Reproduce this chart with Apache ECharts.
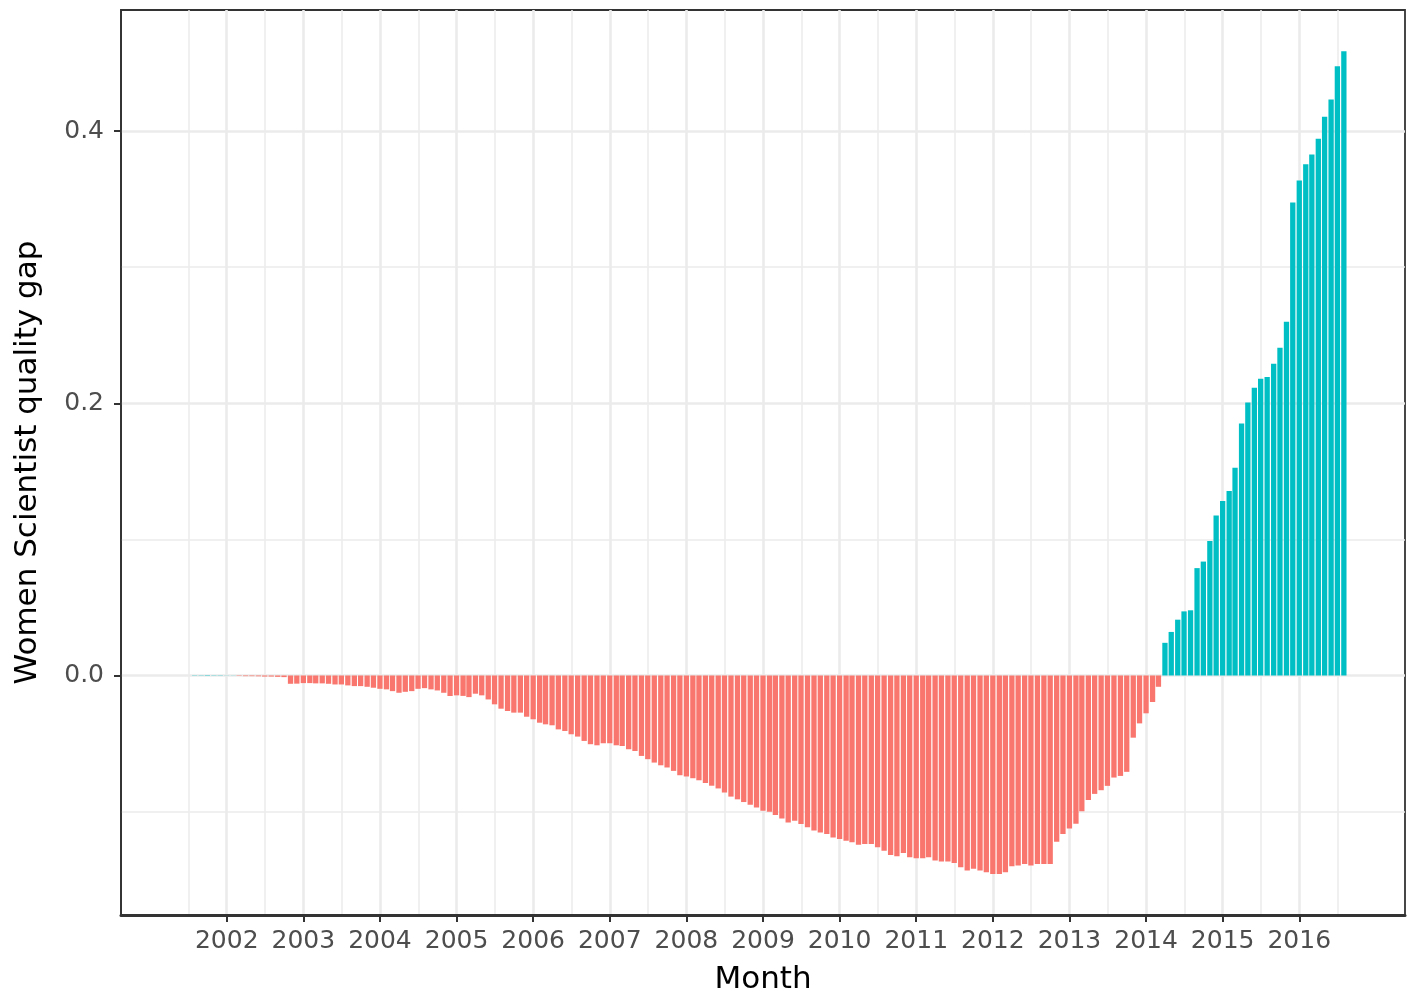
<!DOCTYPE html>
<html>
<head>
<meta charset="utf-8">
<script src="https://cdn.jsdelivr.net/npm/echarts@6/dist/echarts.min.js"></script>
<style>
html,body{margin:0;padding:0;background:#ffffff;}
#chart{width:1407px;height:996px;}
</style>
</head>
<body>
<div id="chart"></div>
<script>
// ---- DATA (monthly values) ----
// first month of the series: June 2001; each array = consecutive months of that year
const firstYear = 2001;
const firstMonth = 6; // June
const gap2001 = [0, 0, 0.0002, 0.0002, 0.0003, 0.0002, 0.0002];
const gap2002 = [0.0001, 0.0001, -0.0003, -0.0005, -0.0005, -0.0006, -0.0008, -0.0008, -0.0010, -0.0012, -0.0061, -0.0060];
const gap2003 = [-0.0056, -0.0056, -0.0058, -0.0058, -0.0061, -0.0066, -0.0066, -0.0073, -0.0078, -0.0078, -0.0083, -0.0090];
const gap2004 = [-0.0098, -0.0102, -0.0115, -0.0127, -0.0120, -0.0115, -0.0098, -0.0093, -0.0102, -0.0110, -0.0127, -0.0151];
const gap2005 = [-0.0146, -0.0150, -0.0159, -0.0134, -0.0146, -0.0176, -0.0212, -0.0244, -0.0261, -0.0273, -0.0273, -0.0303];
const gap2006 = [-0.0322, -0.0347, -0.0359, -0.0366, -0.0396, -0.0408, -0.0432, -0.0449, -0.0481, -0.0505, -0.0513, -0.0498];
const gap2007 = [-0.0498, -0.0513, -0.0518, -0.0542, -0.0555, -0.0591, -0.0615, -0.0640, -0.0660, -0.0676, -0.0701, -0.0733];
const gap2008 = [-0.0742, -0.0755, -0.0770, -0.0790, -0.0810, -0.0830, -0.0860, -0.0890, -0.0910, -0.0930, -0.0950, -0.0970];
const gap2009 = [-0.0994, -0.1001, -0.1026, -0.1050, -0.1080, -0.1067, -0.1092, -0.1116, -0.1140, -0.1153, -0.1165, -0.1190];
const gap2010 = [-0.1201, -0.1214, -0.1226, -0.1243, -0.1238, -0.1238, -0.1263, -0.1287, -0.1319, -0.1328, -0.1304, -0.1336];
const gap2011 = [-0.1343, -0.1343, -0.1336, -0.1360, -0.1367, -0.1367, -0.1377, -0.1409, -0.1433, -0.1421, -0.1433, -0.1446];
const gap2012 = [-0.1458, -0.1458, -0.1446, -0.1401, -0.1397, -0.1385, -0.1397, -0.1385, -0.1385, -0.1385, -0.1221, -0.1165];
const gap2013 = [-0.1125, -0.1090, -0.0997, -0.0915, -0.0870, -0.0843, -0.0811, -0.0750, -0.0738, -0.0708, -0.0457, -0.0352];
const gap2014 = [-0.0278, -0.0195, -0.0083, 0.0240, 0.0320, 0.0410, 0.0471, 0.0479, 0.0789, 0.0837, 0.0989, 0.1175];
const gap2015 = [0.1282, 0.1355, 0.1526, 0.1851, 0.2005, 0.2115, 0.2181, 0.2193, 0.2291, 0.2408, 0.2600, 0.3475];
const gap2016 = [0.3638, 0.3756, 0.3829, 0.3944, 0.4105, 0.4232, 0.4476, 0.4586];

const yearTicks = [2002, 2003, 2004, 2005, 2006, 2007, 2008, 2009, 2010, 2011, 2012, 2013, 2014, 2015, 2016];
const gapTicks = [0, 0.2, 0.4];
const xTitle = 'Month';
const yTitle = 'Women Scientist quality gap';

// ---- build month categories and bar data ----
const gapValues = [].concat(gap2001, gap2002, gap2003, gap2004, gap2005, gap2006, gap2007, gap2008,
  gap2009, gap2010, gap2011, gap2012, gap2013, gap2014, gap2015, gap2016);
const months = [];
for (let i = 0; i < gapValues.length; i++) {
  const t = (firstMonth - 1) + i;
  months.push({ y: firstYear + Math.floor(t / 12), m: t % 12 });
}
function decimalYear(y, m) {
  const a = Date.UTC(y, 0, 1), b = Date.UTC(y + 1, 0, 1), d = Date.UTC(y, m, 1);
  return y + (d - a) / (b - a);
}
const barData = months.map((mm, i) => [decimalYear(mm.y, mm.m), gapValues[i]]);

const FONT = 'DejaVu Sans';
const chart = echarts.init(document.getElementById('chart'), null, { renderer: 'canvas' });
const option = {
  animation: false,
  backgroundColor: '#ffffff',
  grid: {
    left: 121, right: 2, top: 10, bottom: 81,
    outerBoundsMode: 'none', containLabel: false,
    show: true, borderColor: '#333333', borderWidth: 1.8, backgroundColor: '#ffffff'
  },
  xAxis: {
    type: 'value', min: 2000.62, max: 2017.38, splitNumber: 16,
    name: xTitle, nameLocation: 'middle', nameGap: 49,
    nameTextStyle: { fontFamily: FONT, fontSize: 31, color: '#000000' },
    axisLine: { show: true, onZero: false, lineStyle: { color: '#333333', width: 3 } },
    axisTick: { show: true, length: 7, customValues: yearTicks, lineStyle: { color: '#333333', width: 2 } },
    axisLabel: {
      customValues: yearTicks, margin: 14, fontFamily: FONT, fontSize: 25, color: '#4D4D4D',
      formatter: v => String(Math.round(v))
    },
    splitLine: { show: true, lineStyle: { color: '#EBEBEB', width: 2.6 } },
    minorTick: { show: false, splitNumber: 2 },
    minorSplitLine: { show: true, lineStyle: { color: '#EBEBEB', width: 1.5 } }
  },
  yAxis: {
    type: 'value', min: -0.176, max: 0.489, splitNumber: 3,
    name: yTitle, nameLocation: 'middle', nameGap: 78, nameRotate: 90,
    nameTextStyle: { fontFamily: FONT, fontSize: 31, color: '#000000' },
    axisLine: { show: true, lineStyle: { color: '#333333', width: 1.8 } },
    axisTick: { show: true, length: 7, customValues: gapTicks, lineStyle: { color: '#333333', width: 2 } },
    axisLabel: {
      customValues: gapTicks, margin: 17, fontFamily: FONT, fontSize: 25, color: '#4D4D4D',
      formatter: v => v.toFixed(1)
    },
    splitLine: { show: true, lineStyle: { color: '#EBEBEB', width: 2.6 } },
    minorTick: { show: false, splitNumber: 2 },
    minorSplitLine: { show: true, lineStyle: { color: '#EBEBEB', width: 1.5 } }
  },
  series: [{
    type: 'bar',
    data: barData,
    barWidth: 5.3,
    itemStyle: {
      color: p => (p.value[1] >= 0 ? '#00BFC4' : '#F8766D')
    }
  }]
};
chart.setOption(option);
</script>
</body>
</html>
